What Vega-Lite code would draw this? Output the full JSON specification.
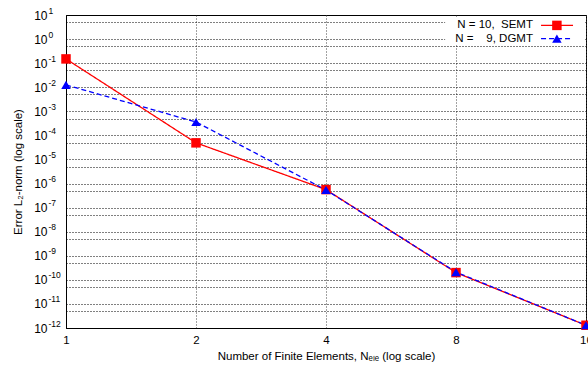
{
  "$schema": "https://vega.github.io/schema/vega-lite/v6.json",
  "autosize": {"type": "none"},
  "width": 520,
  "height": 313,
  "padding": {"left": 66, "top": 15, "right": 2, "bottom": 38},
  "background": "white",
  "config": {
    "view": {"stroke": "#000", "strokeWidth": 1},
    "font": "Liberation Sans",
    "axis": {
      "labelFont": "Liberation Sans",
      "titleFont": "Liberation Sans",
      "labelColor": "#000",
      "titleColor": "#000",
      "titleFontWeight": "normal",
      "domainColor": "#000",
      "gridColor": "#000",
      "gridDash": [1, 2],
      "gridOpacity": 1,
      "gridWidth": 1,
      "ticks": false
    }
  },
  "resolve": {"axis": {"y": "independent"}},
  "data": {
    "values": [
      {"n": 1, "err": 0.15, "series": "SEMT"},
      {"n": 2, "err": 4.9e-5, "series": "SEMT"},
      {"n": 4, "err": 5.6e-7, "series": "SEMT"},
      {"n": 8, "err": 2.0e-10, "series": "SEMT"},
      {"n": 16, "err": 1.3e-12, "series": "SEMT"},
      {"n": 1, "err": 0.0125, "series": "DGMT"},
      {"n": 2, "err": 3.6e-4, "series": "DGMT"},
      {"n": 4, "err": 5.4e-7, "series": "DGMT"},
      {"n": 8, "err": 2.1e-10, "series": "DGMT"},
      {"n": 16, "err": 1.3e-12, "series": "DGMT"}
    ]
  },
  "layer": [
    {
      "mark": {"type": "line", "strokeWidth": 1.3, "clip": false},
      "encoding": {
        "x": {
          "field": "n", "type": "quantitative",
          "scale": {"type": "log", "base": 2, "domain": [1, 16], "nice": false},
          "axis": {
            "values": [1, 2, 4, 8, 16],
            "labelFontSize": 11.5,
            "labelPadding": 6,
            "labelFlush": false,
            "title": "Number of Finite Elements, Nₑₗₑ (log scale)",
            "titleFontSize": 11.5,
            "titlePadding": 5,
            "gridColor": "#444"
          }
        },
        "y": {
          "field": "err", "type": "quantitative",
          "scale": {"type": "log", "domain": [1e-12, 10], "nice": false},
          "axis": {
            "values": [10, 5, 1, 0.5, 0.1, 0.05, 0.01, 0.005, 0.001, 0.0005, 1e-4, 5e-5, 1e-5, 5e-6, 1e-6, 5e-7, 1e-7, 5e-8, 1e-8, 5e-9, 1e-9, 5e-10, 1e-10, 5e-11, 1e-11, 5e-12, 1e-12],
            "labelExpr": "abs(datum.value/pow(10, round(log(datum.value)/LN10)) - 1) > 0.01 ? '' : '10'",
            "labelFontSize": 12,
            "labelPadding": 19,
            "labelFlush": false,
            "labelOverlap": false,
            "title": "Error L₂-norm (log scale)",
            "titleFontSize": 11.5,
            "titlePadding": 10
          }
        },
        "color": {
          "field": "series", "type": "nominal",
          "scale": {"domain": ["SEMT", "DGMT"], "range": ["#ff0000", "#0000ff"]},
          "legend": null
        },
        "strokeDash": {
          "field": "series", "type": "nominal",
          "scale": {"domain": ["SEMT", "DGMT"], "range": [[1, 0], [5, 3]]},
          "legend": null
        }
      }
    },
    {
      "mark": {"type": "point", "filled": true, "opacity": 1, "clip": false},
      "encoding": {
        "x": {"field": "n", "type": "quantitative"},
        "y": {
          "field": "err", "type": "quantitative",
          "axis": {
            "orient": "left",
            "values": [10, 1, 0.1, 0.01, 0.001, 1e-4, 1e-5, 1e-6, 1e-7, 1e-8, 1e-9, 1e-10, 1e-11, 1e-12],
            "labelExpr": "toString(round(log(datum.value)/LN10))",
            "labelAlign": "left",
            "labelFontSize": 8.5,
            "labelPadding": 18,
            "labelOffset": -5,
            "labelFlush": false,
            "labelOverlap": false,
            "grid": false,
            "domain": false,
            "title": null
          }
        },
        "color": {"field": "series", "type": "nominal", "legend": null},
        "shape": {
          "field": "series", "type": "nominal",
          "scale": {"domain": ["SEMT", "DGMT"], "range": ["square", "triangle-up"]},
          "legend": null
        },
        "size": {"value": 90}
      }
    },
    {
      "data": {"values": [{}]},
      "mark": {"type": "rect", "fill": "white"},
      "encoding": {
        "x": {"datum": 7.55, "type": "quantitative"},
        "x2": {"datum": 15.9},
        "y": {"datum": 8.3, "type": "quantitative", "axis": null},
        "y2": {"datum": 0.6}
      }
    },
    {
      "data": {"values": [{}]},
      "mark": {"type": "text", "align": "right", "baseline": "middle", "fontSize": 11.5, "fontWeight": "normal", "font": "Liberation Sans", "color": "#000"},
      "encoding": {
        "x": {"datum": 12.06, "type": "quantitative"},
        "y": {"datum": 3.7, "type": "quantitative", "axis": null},
        "text": {"value": "N = 10,\u00a0\u00a0SEMT"}
      }
    },
    {
      "data": {"values": [{}]},
      "mark": {"type": "text", "align": "right", "baseline": "middle", "fontSize": 11.5, "fontWeight": "normal", "font": "Liberation Sans", "color": "#000"},
      "encoding": {
        "x": {"datum": 12.06, "type": "quantitative"},
        "y": {"datum": 1.05, "type": "quantitative", "axis": null},
        "text": {"value": "N = \u2007\u00a09, DGMT"}
      }
    },
    {
      "data": {"values": [{}]},
      "mark": {"type": "rule", "color": "#ff0000", "strokeWidth": 1.3},
      "encoding": {
        "x": {"datum": 12.59, "type": "quantitative"},
        "x2": {"datum": 14.93},
        "y": {"datum": 3.7, "type": "quantitative", "axis": null}
      }
    },
    {
      "data": {"values": [{}]},
      "mark": {"type": "rule", "color": "#0000ff", "strokeWidth": 1.3, "strokeDash": [5, 3]},
      "encoding": {
        "x": {"datum": 12.59, "type": "quantitative"},
        "x2": {"datum": 14.93},
        "y": {"datum": 1.05, "type": "quantitative", "axis": null}
      }
    },
    {
      "data": {"values": [{}]},
      "mark": {"type": "point", "shape": "square", "filled": true, "color": "#ff0000", "size": 90, "opacity": 1},
      "encoding": {
        "x": {"datum": 13.7, "type": "quantitative"},
        "y": {"datum": 3.7, "type": "quantitative", "axis": null}
      }
    },
    {
      "data": {"values": [{}]},
      "mark": {"type": "point", "shape": "triangle-up", "filled": true, "color": "#0000ff", "size": 90, "opacity": 1},
      "encoding": {
        "x": {"datum": 13.7, "type": "quantitative"},
        "y": {"datum": 1.05, "type": "quantitative", "axis": null}
      }
    }
  ]
}
